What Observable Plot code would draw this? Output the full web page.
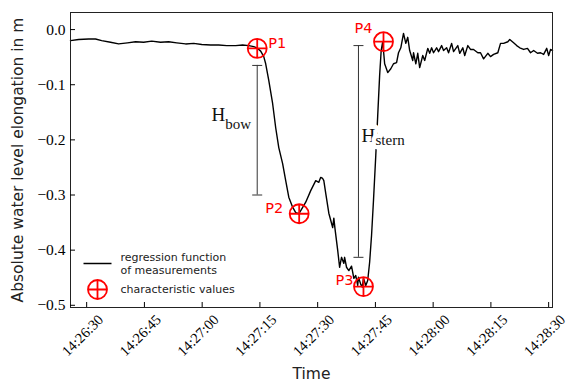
<!DOCTYPE html>
<html><head><meta charset="utf-8">
<script src="https://cdn.jsdelivr.net/npm/d3@7"></script>
<script src="https://cdn.jsdelivr.net/npm/@observablehq/plot@0.6"></script>
<style>body{margin:0;background:#fff}#chart svg{display:block}</style>
</head><body><div id="chart"></div>
<script>
// ---- data ----
const curveTimes = [
  "14:26:25.8","14:26:27.9","14:26:30.5","14:26:32.3","14:26:33.9","14:26:36.2","14:26:38.3","14:26:40.6","14:26:42.7","14:26:44.8",
  "14:26:46.9","14:26:49.2","14:26:51.3","14:26:53.4","14:26:55.7","14:26:57.8","14:26:59.9","14:27:02.2","14:27:04.3","14:27:06.4",
  "14:27:08.7","14:27:10.5","14:27:12.1","14:27:13.4","14:27:14.2",
  "14:27:15.2","14:27:16.0","14:27:16.5","14:27:17.3","14:27:18.3","14:27:19.1","14:27:19.9","14:27:20.9","14:27:21.7","14:27:22.5",
  "14:27:23.5","14:27:24.3","14:27:25.1","14:27:25.8","14:27:26.9","14:27:28.2","14:27:29.5","14:27:30.3","14:27:30.8","14:27:31.3",
  "14:27:31.6","14:27:32.1","14:27:32.9","14:27:33.9","14:27:34.2","14:27:34.5","14:27:35.2","14:27:35.7","14:27:36.2","14:27:36.8",
  "14:27:37.0","14:27:37.5","14:27:38.1","14:27:38.8","14:27:39.4","14:27:39.9","14:27:40.4","14:27:40.6","14:27:41.2","14:27:41.6",
  "14:27:41.9","14:27:42.5","14:27:43.0","14:27:43.5","14:27:44.0","14:27:44.5","14:27:45.1","14:27:45.6","14:27:46.1","14:27:46.5",
  "14:27:46.9",
  "14:27:47.4","14:27:48.2","14:27:49.0","14:27:49.7","14:27:50.5","14:27:51.0","14:27:51.6","14:27:52.3","14:27:52.9","14:27:53.4",
  "14:27:53.9","14:27:54.7","14:27:54.9","14:27:55.5","14:27:56.0","14:27:56.5","14:27:57.3","14:27:57.8","14:27:58.6","14:27:59.1",
  "14:27:59.6","14:28:00.1","14:28:00.9","14:28:01.4","14:28:02.2","14:28:02.7","14:28:03.5","14:28:04.0","14:28:04.8","14:28:05.3",
  "14:28:06.4","14:28:06.9","14:28:07.7","14:28:08.2","14:28:09.0","14:28:09.7","14:28:10.5","14:28:11.6","14:28:12.3","14:28:13.1",
  "14:28:14.2","14:28:14.9","14:28:15.7","14:28:16.8","14:28:17.5","14:28:18.3","14:28:19.4","14:28:19.9","14:28:20.9","14:28:21.7",
  "14:28:22.5","14:28:23.5","14:28:24.5","14:28:25.3","14:28:26.1","14:28:27.1","14:28:27.9","14:28:28.7","14:28:29.5","14:28:30.0",
  "14:28:30.5","14:28:31.0"
];
const elongation = [
  -0.020,-0.018,-0.017,-0.017,-0.020,-0.023,-0.026,-0.024,-0.022,-0.023,
  -0.021,-0.023,-0.022,-0.024,-0.026,-0.025,-0.027,-0.028,-0.028,-0.029,
  -0.029,-0.028,-0.029,-0.031,-0.033,
  -0.039,-0.049,-0.062,-0.092,-0.134,-0.178,-0.214,-0.243,-0.274,-0.304,
  -0.322,-0.332,-0.334,-0.326,-0.313,-0.292,-0.274,-0.277,-0.268,-0.270,
  -0.274,-0.297,-0.333,-0.359,-0.342,-0.361,-0.400,-0.431,-0.413,-0.424,
  -0.413,-0.431,-0.437,-0.429,-0.451,-0.446,-0.464,-0.449,-0.462,-0.467,
  -0.451,-0.464,-0.455,-0.422,-0.373,-0.310,-0.228,-0.156,-0.083,-0.038,
  -0.022,
  -0.062,-0.078,-0.071,-0.062,-0.060,-0.042,-0.033,-0.007,-0.025,-0.014,
  -0.038,-0.056,-0.042,-0.062,-0.043,-0.069,-0.047,-0.056,-0.034,-0.043,
  -0.033,-0.042,-0.033,-0.040,-0.029,-0.038,-0.033,-0.042,-0.025,-0.040,
  -0.029,-0.043,-0.033,-0.047,-0.029,-0.036,-0.036,-0.042,-0.042,-0.053,
  -0.043,-0.049,-0.045,-0.042,-0.025,-0.025,-0.022,-0.018,-0.024,-0.029,
  -0.033,-0.036,-0.034,-0.042,-0.038,-0.043,-0.042,-0.045,-0.034,-0.047,
  -0.036,-0.038
];
const pointLabels = ["P1", "P2", "P3", "P4"];
const pointTimes  = ["14:27:14.3", "14:27:25.2", "14:27:41.9", "14:27:47.1"];
const pointValues = [-0.034, -0.334, -0.466, -0.022];

const heightNames  = ["bow", "stern"];
const heightTimes  = ["14:27:14.3", "14:27:40.6"];
const heightTop    = [-0.065, -0.029];
const heightBottom = [-0.300, -0.413];

const xTickLabels = ["14:26:30","14:26:45","14:27:00","14:27:15","14:27:30","14:27:45","14:28:00","14:28:15","14:28:30"];
const yTicks = [0.0, -0.1, -0.2, -0.3, -0.4, -0.5];
const xDomain = ["14:26:25.8", "14:28:31.0"];
const yDomain = [-0.504, 0.031];

const yLabel = "Absolute water level elongation in m";
const xLabel = "Time";
const legendLabels = ["regression function\nof measurements", "characteristic values"];

// ---- helpers ----
function parseTime(s) {
  const [h, m, sec] = s.split(":");
  return new Date(Date.UTC(2020, 0, 1, +h, +m, 0) + Math.round(+sec * 1000));
}
const curve = curveTimes.map((s, i) => ({t: parseTime(s), v: elongation[i]}));
const points = pointLabels.map((l, i) => ({label: l, t: parseTime(pointTimes[i]), v: pointValues[i]}));
const heights = heightNames.map((n, i) => ({name: n, t: parseTime(heightTimes[i]), top: heightTop[i], bottom: heightBottom[i], mid: (heightTop[i] + heightBottom[i]) / 2}));
const caps = heights.flatMap(h => [{t: h.t, v: h.top}, {t: h.t, v: h.bottom}]);
const xTicks = xTickLabels.map(parseTime);

const crossCircle = {draw(ctx, size) {
  const r = Math.sqrt(size / Math.PI);
  ctx.moveTo(r, 0); ctx.arc(0, 0, r, 0, 2 * Math.PI);
  ctx.moveTo(-r, 0); ctx.lineTo(r, 0);
  ctx.moveTo(0, -r); ctx.lineTo(0, r);
}};
const hline = {draw(ctx, size) {
  const r = Math.sqrt(size / Math.PI);
  ctx.moveTo(-r, 0); ctx.lineTo(r, 0);
}};

const serif = "'Liberation Serif', 'Times New Roman', serif";
const sans = "'DejaVu Sans', sans-serif";
const RED = "#ff0000";

// label placement (styling)
const pLabelPos = [
  {dx: 11, dy: -5, textAnchor: "start"},
  {dx: -16, dy: -5.5, textAnchor: "end"},
  {dx: -10, dy: -6, textAnchor: "end"},
  {dx: -11, dy: -13.5, textAnchor: "end"}
];
const hLabelPos = [
  {hdx: -32, hAnchor: "end", sdx: -32, sdy: -6.5, halo: false},
  {hdx: 3, hAnchor: "start", sdx: 17, sdy: -11.5, halo: true}
];

const hLabelMarks = heights.flatMap((h, i) => {
  const p = hLabelPos[i];
  const halo = p.halo ? {stroke: "#fff", strokeWidth: 9, paintOrder: "stroke"} : {};
  return [
    Plot.text([h], {x: "t", y: "mid", text: () => "H", dx: p.hdx, dy: -15.5, textAnchor: p.hAnchor,
      lineAnchor: "middle", fontFamily: serif, fontSize: 19, fill: "#111", ...halo}),
    Plot.text([h], {x: "t", y: "mid", text: "name", dx: p.sdx, dy: p.sdy, textAnchor: "start",
      lineAnchor: "middle", fontFamily: serif, fontSize: 15, fill: "#111", ...halo})
  ];
});

const plot = Plot.plot({
  width: 567,
  height: 383,
  marginLeft: 70,
  marginRight: 15,
  marginTop: 12,
  marginBottom: 76,
  style: {background: "#fff", fontFamily: serif, fontSize: "15.5px", color: "#000", overflow: "visible"},
  x: {type: "utc", domain: xDomain.map(parseTime)},
  y: {domain: yDomain},
  marks: [
    Plot.line(curve, {x: "t", y: "v", stroke: "#000", strokeWidth: 1.4}),
    ...hLabelMarks,
    Plot.ruleX(heights, {x: "t", y1: "top", y2: "bottom", stroke: "#333", strokeWidth: 1}),
    Plot.dot(caps, {x: "t", y: "v", symbol: hline, r: 5, stroke: "#333", strokeWidth: 1, fill: "none"}),
    Plot.dot(points, {x: "t", y: "v", symbol: crossCircle, r: 9.5, stroke: RED, strokeWidth: 1.8, fill: "none"}),
    ...points.map((p, i) => Plot.text([p], {x: "t", y: "v", text: "label", ...pLabelPos[i],
      lineAnchor: "middle", fill: RED, fontFamily: sans, fontSize: 14.5})),
    // legend
    Plot.dot([legendLabels[0]], {frameAnchor: "bottom-left", dx: 27, dy: -44, symbol: hline, r: 14, stroke: "#000", strokeWidth: 1.5, fill: "none"}),
    Plot.dot([legendLabels[1]], {frameAnchor: "bottom-left", dx: 27, dy: -18, symbol: crossCircle, r: 9.5, stroke: RED, strokeWidth: 1.8, fill: "none"}),
    Plot.text([legendLabels[0]], {frameAnchor: "bottom-left", dx: 50, dy: -44.5, textAnchor: "start", lineAnchor: "middle", lineHeight: 1.18, fontFamily: sans, fontSize: 11, fill: "#222"}),
    Plot.text([legendLabels[1]], {frameAnchor: "bottom-left", dx: 50, dy: -18, textAnchor: "start", lineAnchor: "middle", fontFamily: sans, fontSize: 11, fill: "#222"}),
    // axes
    Plot.frame({stroke: "#222", strokeWidth: 1}),
    Plot.axisY(yTicks, {tickSize: -5, tickPadding: 10, tickFormat: d3.format(".1f"), label: null, fontFamily: serif, fontSize: 15.5}),
    Plot.axisX(xTicks, {tickSize: -5, tickFormat: () => "", label: null}),
    Plot.text(xTicks, {x: d => d, frameAnchor: "bottom", dx: -4, dy: 28, rotate: -45, text: d3.utcFormat("%H:%M:%S"),
      textAnchor: "middle", lineAnchor: "middle", fontFamily: serif, fontSize: 14.5, fill: "#000"}),
    Plot.text([yLabel], {frameAnchor: "left", dx: -52, rotate: -90, textAnchor: "middle", lineAnchor: "middle", fontFamily: sans, fontSize: 15.5, fill: "#222"}),
    Plot.text([xLabel], {frameAnchor: "bottom", dy: 67, textAnchor: "middle", lineAnchor: "middle", fontFamily: sans, fontSize: 15.5, fill: "#222"})
  ]
});
document.getElementById("chart").append(plot);
</script>
</body></html>
